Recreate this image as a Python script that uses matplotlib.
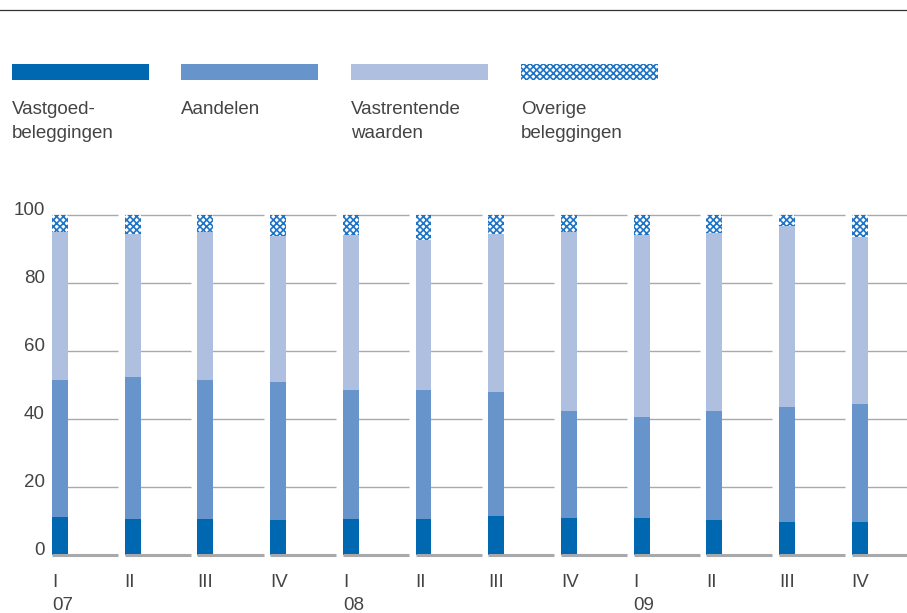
import numpy as np
import matplotlib as mpl
mpl.use('Agg')
import matplotlib.pyplot as plt
from matplotlib.patches import Rectangle
from matplotlib.lines import Line2D

mpl.rcParams['font.family'] = ['Liberation Sans', 'DejaVu Sans']
mpl.rcParams['hatch.linewidth'] = 1.2

# asset mix per quarter, in % (stacked to 100)
quarters = ['I', 'II', 'III', 'IV', 'I', 'II', 'III', 'IV', 'I', 'II', 'III', 'IV']
years = {0: '07', 4: '08', 8: '09'}
vastgoed = [11.2, 10.6, 10.6, 10.3, 10.6, 10.6, 11.5, 10.9, 10.9, 10.3, 9.7, 9.7]
aandelen = [40.3, 41.8, 40.9, 40.6, 37.9, 37.9, 36.4, 31.5, 29.7, 32.1, 33.8, 34.7]
vastrentend = [43.6, 41.9, 43.6, 42.9, 45.6, 44.1, 46.5, 52.7, 53.4, 52.4, 53.4, 49.0]
overige = [4.9, 5.7, 4.9, 6.2, 5.9, 7.4, 5.6, 4.9, 6.0, 5.2, 3.1, 6.6]

labels = [['Vastgoed-', 'beleggingen'], ['Aandelen'], ['Vastrentende', 'waarden'],
          ['Overige', 'beleggingen']]
colors = ['#0067b1', '#6694cb', '#aebfe0', 'white']
hatch_col = '#1e74c6'
txt_col = '#444444'
grid_col = '#a9a9ab'
fs = 13.5

W, H = 907, 613
fig = plt.figure(figsize=(W / 100, H / 100), dpi=100)
ax = fig.add_axes([52 / W, (H - 555) / H, (W - 52) / W, 340 / H])
ax.set_xlim(0, (W - 52) / 72.7)
ax.set_ylim(0, 100)
ax.axis('off')

x = np.arange(len(quarters))
bw = 0.22
cell = 0.91

# segmented grid lines, one piece per quarter
for yv in [20, 40, 60, 80, 100]:
    ax.hlines([yv] * len(x), x, x + cell, color=grid_col, lw=1.0, zorder=1, clip_on=False)
ax.hlines([0] * len(x), x, x + cell, color=grid_col, lw=2.2, zorder=3, clip_on=False)

bottom = np.zeros(len(x))
series = [vastgoed, aandelen, vastrentend, overige]
for i, vals in enumerate(series):
    vals = np.array(vals)
    if i == 3:
        ax.bar(x, vals, bw, bottom=bottom, align='edge', color='white',
               edgecolor=hatch_col, hatch='xxxxx', lw=0, zorder=2, clip_on=False)
    else:
        ax.bar(x, vals, bw, bottom=bottom, align='edge', color=colors[i],
               lw=0, zorder=2, clip_on=False)
    bottom += vals

# y tick labels
for yv in [0, 20, 40, 60, 80, 100]:
    ax.text(-0.1, yv + 1.3, str(yv), ha='right', va='center', fontsize=fs,
            color=txt_col)

# quarter / year labels
for i, q in enumerate(quarters):
    ax.text(i, -8.1, q, ha='left', va='center', fontsize=fs, color=txt_col)
    if i in years:
        ax.text(i, -15.0, years[i], ha='left', va='center', fontsize=fs, color=txt_col)

# legend
lx = [12, 181, 351, 521]
for i in range(4):
    r = Rectangle((lx[i] / W, (H - 80) / H), 137 / W, 16 / H, transform=fig.transFigure,
                  facecolor=colors[i], lw=0,
                  edgecolor=hatch_col if i == 3 else 'none',
                  hatch='xxxxx' if i == 3 else None)
    fig.patches.append(r)
    for j, line in enumerate(labels[i]):
        fig.text(lx[i] / W, (H - 114 - 24 * j) / H, line, ha='left', va='baseline',
                 fontsize=fs, color=txt_col)

fig.lines.append(Line2D([0, 1], [(H - 10) / H] * 2, transform=fig.transFigure,
                        color='#333333', lw=0.9))

fig.savefig('out.png', dpi=100)
